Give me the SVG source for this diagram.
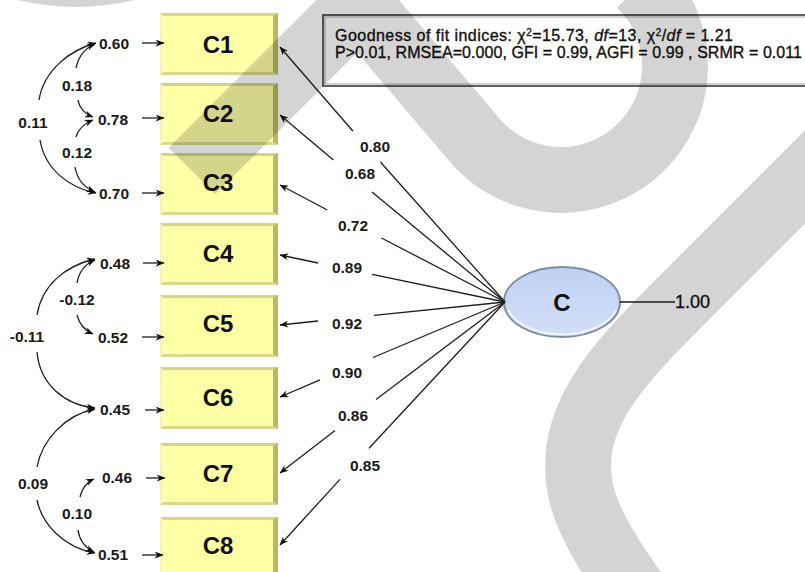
<svg xmlns="http://www.w3.org/2000/svg" width="805" height="572" viewBox="0 0 805 572">
  <defs>
    <style>
      .lbl { font-family: "Liberation Sans", Arial, sans-serif; font-weight: bold; font-size: 15.5px; fill: #1a1a1a; text-anchor: middle; }
      .big { font-family: "Liberation Sans", Arial, sans-serif; font-weight: bold; font-size: 24px; fill: #111; text-anchor: middle; }
      .fit { font-family: "Liberation Sans", Arial, sans-serif; font-size: 16px; fill: #111; stroke: #111; stroke-width: 0.35; }
      .ln { fill: none; stroke: #1e1e1e; stroke-width: 1.3; }
      .arr { marker-end: url(#ah); }
      .cov { fill: none; stroke: #1e1e1e; stroke-width: 1.3; }
      .box { fill: #FFFFA6; }
      .bvT { fill: #D3D38A; }
      .bvR { fill: #B8B868; }
      .bvB { fill: #D9D990; }
      .bvL { fill: #F4F4B8; }
      .wm { fill: none; stroke: #000; stroke-opacity: 0.17; stroke-width: 66; }
      .wmf { fill: #000; fill-opacity: 0.17; }
    </style>
    <marker id="ah" viewBox="0 0 10 8" refX="9.5" refY="4" markerWidth="9" markerHeight="7" markerUnits="userSpaceOnUse" orient="auto-start-reverse">
      <path d="M0,0 L10,4 L0,8 L3,4 z" fill="#111"/>
    </marker>
    <linearGradient id="ellFill" x1="0" y1="0" x2="0" y2="1">
      <stop offset="0" stop-color="#BFD1F4"/>
      <stop offset="1" stop-color="#D2DFF9"/>
    </linearGradient>
    <g id="bevelBox">
      <rect class="box" x="0" y="0" width="118" height="62"/>
      <polygon class="bvT" points="0,0 118,0 114,3 3,3"/>
      <polygon class="bvR" points="118,0 118,62 113,59 113,3"/>
      <polygon class="bvB" points="0,62 118,62 113,59 3,59"/>
      <polygon class="bvL" points="0,0 3,3 3,59 0,62"/>
    </g>
  </defs>

  <rect x="0" y="0" width="805" height="572" fill="#ffffff"/>

  <!-- observed indicators -->
  <g id="C1"><use href="#bevelBox" x="160" y="13"/><text class="big" x="218" y="53">C1</text></g>
  <g id="C2"><use href="#bevelBox" x="160" y="83"/><text class="big" x="218" y="122">C2</text></g>
  <g id="C3"><use href="#bevelBox" x="160" y="153"/><text class="big" x="218" y="191">C3</text></g>
  <g id="C4"><use href="#bevelBox" x="160" y="223"/><text class="big" x="218" y="262">C4</text></g>
  <g id="C5"><use href="#bevelBox" x="160" y="295"/><text class="big" x="218" y="332">C5</text></g>
  <g id="C6"><use href="#bevelBox" x="160" y="367"/><text class="big" x="218" y="406">C6</text></g>
  <g id="C7"><use href="#bevelBox" x="160" y="443"/><text class="big" x="218" y="482">C7</text></g>
  <g id="C8"><use href="#bevelBox" x="160" y="517"/><text class="big" x="218" y="554">C8</text></g>

  <!-- latent factor -->
  <g id="C">
    <ellipse cx="562" cy="302" rx="58" ry="35" fill="url(#ellFill)" stroke="#7E8CA3" stroke-width="2"/>
    <path d="M508,310 A56,33 0 0 0 616,310" fill="none" stroke="#EEF3FC" stroke-width="2"/>
    <text class="big" x="562" y="311">C</text>
  </g>

  <!-- fit statistics -->
  <g id="fit">
    <rect x="323" y="15" width="495" height="71" fill="#ffffff" stroke="#3a3a3a" stroke-width="1.6"/>
    <rect x="325" y="17" width="495" height="67" fill="none" stroke="#a8a8a8" stroke-width="1"/>
    <text class="fit" x="335" y="41" textLength="398">Goodness of fit indices: χ<tspan baseline-shift="super" font-size="10">2</tspan>=15.73, <tspan font-style="italic">df</tspan>=13, χ<tspan baseline-shift="super" font-size="10">2</tspan>/<tspan font-style="italic">df</tspan> = 1.21</text>
    <text class="fit" x="335" y="58" textLength="467">P&gt;0.01, RMSEA=0.000, GFI = 0.99, AGFI = 0.99 , SRMR = 0.011</text>
  </g>

  <g id="connectors">
    <!-- factor loadings (broken around their values) -->
    <path class="ln arr" d="M352.8,131 L280,47"/>
    <path class="ln" d="M380.4,162 L505,302"/>
    <path class="ln arr" d="M333.4,160 L280,115"/>
    <path class="ln" d="M372,192 L505,302"/>
    <path class="ln arr" d="M327.3,210 L280,185"/>
    <path class="ln" d="M381.4,238 L505,302"/>
    <path class="ln arr" d="M318,263 L280,255"/>
    <path class="ln" d="M372,274.3 L505,302"/>
    <path class="ln arr" d="M318,321 L280,325"/>
    <path class="ln" d="M374,315.3 L505,302"/>
    <path class="ln arr" d="M320,379.8 L280,397"/>
    <path class="ln" d="M373,357.5 L505,302"/>
    <path class="ln arr" d="M335,430.6 L280,473"/>
    <path class="ln" d="M376,399.6 L505,302"/>
    <path class="ln arr" d="M340,479.4 L280,545"/>
    <path class="ln" d="M369,448.2 L505,302"/>

    <!-- factor variance -->
    <path class="ln" d="M620,302 L675,302"/>

    <!-- error terms -->
    <path class="ln arr" d="M142,43 L164,43"/>
    <path class="ln arr" d="M142,118 L164,118"/>
    <path class="ln arr" d="M142,193 L164,193"/>
    <path class="ln arr" d="M143,263 L164,263"/>
    <path class="ln arr" d="M142,337 L164,337"/>
    <path class="ln arr" d="M145,410 L164,410"/>
    <path class="ln arr" d="M146,478 L165,478"/>
    <path class="ln arr" d="M142,555 L163,555"/>

    <!-- error covariances -->
    <path class="cov" marker-start="url(#ah)" d="M96,43 C70,50 44,70 39,100"/>
    <path class="cov" marker-end="url(#ah)" d="M40,140 C45,170 70,188 96,193"/>
    <path class="cov" marker-start="url(#ah)" d="M95,44 Q80,50 76,68"/>
    <path class="cov" marker-end="url(#ah)" d="M78,100 Q80,112 93,117"/>
    <path class="cov" marker-start="url(#ah)" d="M93,120 Q79,126 76,137"/>
    <path class="cov" marker-end="url(#ah)" d="M75,167 Q78,185 95,192"/>

    <path class="cov" marker-start="url(#ah)" d="M95,260 Q80,266 77,283"/>
    <path class="cov" marker-end="url(#ah)" d="M77,315 Q80,328 93,334"/>
    <path class="cov" marker-start="url(#ah)" d="M95,259 C65,266 42,285 37,315"/>
    <path class="cov" marker-end="url(#ah)" d="M37,352 C40,385 65,405 95,408"/>

    <path class="cov" marker-start="url(#ah)" d="M95,409 C65,415 42,440 37,467"/>
    <path class="cov" marker-end="url(#ah)" d="M37,500 C42,525 65,548 95,553"/>
    <path class="cov" marker-start="url(#ah)" d="M94,479 Q83,484 80,497"/>
    <path class="cov" marker-end="url(#ah)" d="M78,530 Q80,545 94,552"/>
  </g>

  <g id="values">
    <text class="lbl" x="114" y="48.5">0.60</text>
    <text class="lbl" x="113" y="124.5">0.78</text>
    <text class="lbl" x="114" y="198.5">0.70</text>
    <text class="lbl" x="115" y="268.5">0.48</text>
    <text class="lbl" x="113" y="342.5">0.52</text>
    <text class="lbl" x="115" y="414.5">0.45</text>
    <text class="lbl" x="117" y="482.5">0.46</text>
    <text class="lbl" x="113" y="559.5">0.51</text>

    <text class="lbl" x="77" y="90.5">0.18</text>
    <text class="lbl" x="77" y="157.5">0.12</text>
    <text class="lbl" x="33" y="127.5">0.11</text>
    <text class="lbl" x="77" y="304.5">-0.12</text>
    <text class="lbl" x="27" y="341.5">-0.11</text>
    <text class="lbl" x="33" y="488.5">0.09</text>
    <text class="lbl" x="77" y="518.5">0.10</text>

    <text class="lbl" x="375" y="151.5">0.80</text>
    <text class="lbl" x="360" y="178.5">0.68</text>
    <text class="lbl" x="353" y="230.5">0.72</text>
    <text class="lbl" x="347" y="272.5">0.89</text>
    <text class="lbl" x="347" y="328.5">0.92</text>
    <text class="lbl" x="347" y="377.5">0.90</text>
    <text class="lbl" x="353" y="420.5">0.86</text>
    <text class="lbl" x="365" y="470.5">0.85</text>

    <text x="675" y="308" font-family="'Liberation Sans', Arial, sans-serif" font-size="18" fill="#111" stroke="#111" stroke-width="0.3">1.00</text>
  </g>

  <!-- translucent grey overlay bands -->
  <g id="overlay">
    <path class="wm" d="M192,171 L359,4 L478,144 A114,114 0 0 0 675,66 A114,114 0 0 0 640,-16"/>
    <path class="wm" d="M880,102 L688,294 C620,362 560,420 583,500 C592,530 612,560 640,600"/>
    <path class="wmf" d="M18,0 Q75,14 135,0 Z"/>
  </g>
</svg>
